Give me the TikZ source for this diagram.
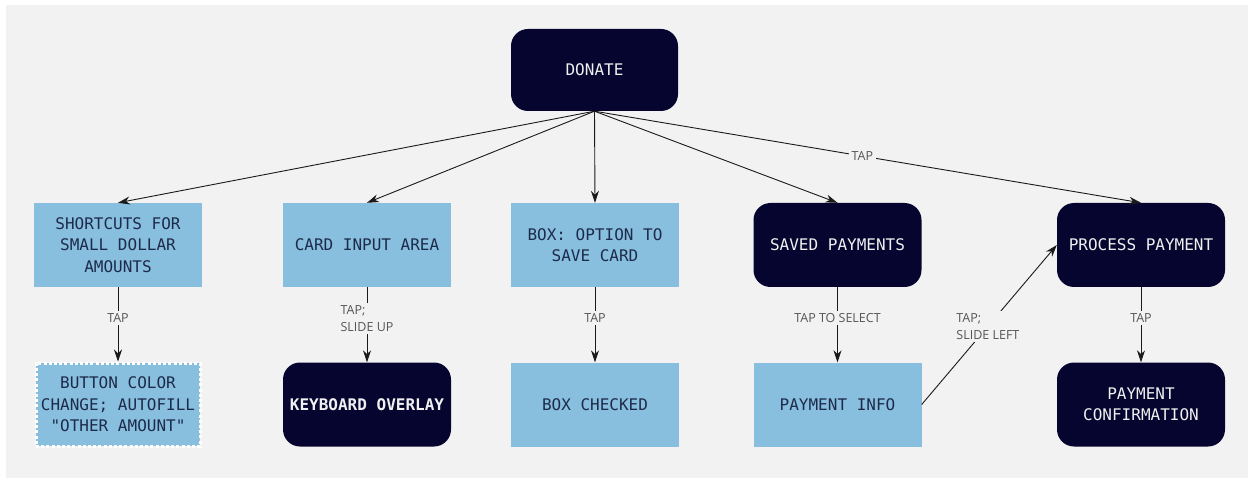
\documentclass[tikz,border=0pt]{standalone}
\usepackage{fontspec}
\usetikzlibrary{arrows.meta}
\newfontfamily\boxfont{DejaVu Sans Mono}
\newfontfamily\tagfont{Open Sans}
\definecolor{panel}{HTML}{F2F2F2}
\definecolor{navy}{HTML}{050530}
\definecolor{sky}{HTML}{88BFDE}
\definecolor{inktext}{HTML}{1E2A4A}
\definecolor{paletext}{HTML}{F0F0F0}
\definecolor{tagtext}{HTML}{555555}
\definecolor{linecol}{HTML}{1A1A1A}
\tikzset{
  box/.style={minimum width=168pt, minimum height=84pt, inner sep=2pt,
    align=center, font=\boxfont\fontsize{16}{21.5}\selectfont},
  darkbox/.style={box, fill=navy, rounded corners=17pt, text=paletext},
  lightbox/.style={box, fill=sky, text=inktext},
  dashbox/.style={lightbox, minimum width=164pt, minimum height=83pt,
    draw=white, line width=3pt, dash pattern=on 3pt off 2.2pt},
  link/.style={draw=linecol, line width=0.9pt,
    -{Stealth[length=12pt,width=8pt]}},
  tag/.style={fill=panel, text=tagtext, inner sep=2.5pt, align=left,
    font=\tagfont\fontsize{12.5}{17}\selectfont},
}
\begin{document}
\begin{tikzpicture}[x=1pt,y=-1pt]
  % page and background panel
  \useasboundingbox (0,0) rectangle (1251,481);
  \fill[white] (0,0) rectangle (1251,481);
  \fill[panel] (6,5) rectangle (1248,478);

  % top node
  \node[darkbox, minimum width=167pt, minimum height=82pt] (donate) at (594.5,70) {DONATE};

  % first row
  \node[lightbox] (shortcuts) at (118,245) {SHORTCUTS FOR\\SMALL DOLLAR\\AMOUNTS};
  \node[lightbox] (card) at (367,245) {CARD INPUT AREA};
  \node[lightbox] (option) at (595,245) {BOX: OPTION TO\\SAVE CARD};
  \node[darkbox] (saved) at (837.5,245) {SAVED PAYMENTS};
  \node[darkbox] (process) at (1141,245) {PROCESS PAYMENT};

  % second row
  \node[dashbox] (button) at (118,404.5) {BUTTON COLOR\\CHANGE; AUTOFILL\\"OTHER AMOUNT"};
  \node[darkbox] (keyboard) at (367,404.5) {\bfseries KEYBOARD OVERLAY};
  \node[lightbox] (checked) at (595,404.5) {BOX CHECKED};
  \node[lightbox] (info) at (837.5,404.5) {PAYMENT INFO};
  \node[darkbox] (confirm) at (1141,404.5) {PAYMENT\\CONFIRMATION};

  % fan-out from the top node
  \draw[link] (donate.south) -- (shortcuts.north);
  \draw[link] (donate.south) -- (card.north);
  \draw[link] (donate.south) -- (option.north);
  \draw[link] (donate.south) -- (saved.north);
  \draw[link] (donate.south) -- node[tag, pos=0.49] {TAP} (process.north);

  % downward steps
  \draw[link] (shortcuts.south) -- node[tag, pos=0.41] {TAP} (button.north);
  \draw[link] (card.south) -- node[tag, pos=0.42] {TAP;\\SLIDE UP} (keyboard.north);
  \draw[link] (option.south) -- node[tag, pos=0.41] {TAP} (checked.north);
  \draw[link] (saved.south) -- node[tag, pos=0.41] {TAP TO SELECT} (info.north);
  \draw[link] (process.south) -- node[tag, pos=0.41] {TAP} (confirm.north);

  % payment info back up to processing
  \draw[link] (info.east) -- node[tag, pos=0.49] {TAP;\\SLIDE LEFT} (process.west);
\end{tikzpicture}
\end{document}
